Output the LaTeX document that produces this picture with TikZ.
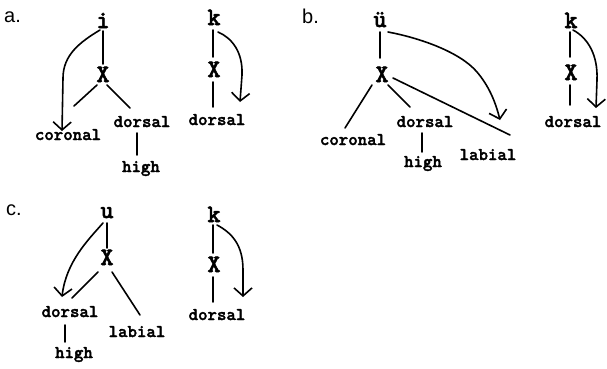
\documentclass[tikz,border=0pt]{standalone}
\usepackage{fontspec}
\newfontfamily\twfont{lmmonolt10-bold}[Extension=.otf, FakeBold=2]
\newfontfamily\tagfont{Liberation Sans}
\usetikzlibrary{arrows.meta}

\tikzset{
  seg/.style={line width=1.6pt, line cap=round, line join=round},
  arr/.style={seg, -{Straight Barb[length=8pt,width=18pt,line width=1.6pt]}},
  seg letter/.style={font=\fontsize{25}{25}\selectfont\twfont, inner sep=1pt, anchor=base},
  feat/.style={font=\fontsize{18}{18}\selectfont\twfont, inner sep=1pt, anchor=base},
  panel tag/.style={font=\fontsize{20}{20}\selectfont\tagfont, inner sep=0pt, anchor=base west},
}

\begin{document}
\begin{tikzpicture}[x=1pt, y=-1pt]
\useasboundingbox (0,0) rectangle (607,368);

% ---------------- a. ----------------
\node[panel tag] (tagA) at (4,22) {a.};
\node[seg letter] (ia)   at (103,28) {i};
\node[seg letter] (Xa)   at (103,82) {X};
\node[feat] (cora)  at (68,140)  {coronal};
\node[feat] (dora)  at (142,127) {dorsal};
\node[feat] (higa)  at (141,172) {high};
\coordinate (a1s) at (97,85);  \coordinate (a1e) at (74,106);
\coordinate (a2s) at (107,85); \coordinate (a2e) at (130,108);
\coordinate (aTip) at (62,131);
\draw[seg] (103,31) -- (103,64);
\draw[seg] (a1s) -- (a1e);
\draw[seg] (a2s) -- (a2e);
\draw[seg] (137,133) -- (137,155);
\draw[arr] (100,30) .. controls (80,42) and (63,55) .. (63,78) -- (aTip);

\node[seg letter] (ka)   at (214,25) {k};
\node[seg letter] (Xka)  at (214,77) {X};
\node[feat] (dorka) at (217,125) {dorsal};
\coordinate (kaTip) at (240,102);
\draw[seg] (213,30) -- (213,57);
\draw[seg] (213,82) -- (213,107);
\draw[arr] (218,32) .. controls (232,38) and (243,52) .. (242,75) -- (kaTip);

% ---------------- b. ----------------
\node[panel tag] (tagB) at (302,23) {b.};
\node[seg letter] (ub)   at (380,27) {ü};
\node[seg letter] (Xb)   at (382,82) {X};
\node[feat] (corb)  at (353,145) {coronal};
\node[feat] (dorb)  at (425,127) {dorsal};
\node[feat] (higb)  at (423,167) {high};
\node[feat] (labb)  at (488,160) {labial};
\coordinate (b1s) at (372,85);  \coordinate (b1e) at (345,128);
\coordinate (b2s) at (388,85);  \coordinate (b2e) at (410,107);
\coordinate (b3s) at (393,78);  \coordinate (b3e) at (510,135);
\coordinate (bTip) at (500,120);
\draw[seg] (380,32) -- (380,58);
\draw[seg] (b1s) -- (b1e);
\draw[seg] (b2s) -- (b2e);
\draw[seg] (b3s) -- (b3e);
\draw[seg] (422,133) -- (422,152);
\draw[arr] (388,32) .. controls (420,38) and (460,52) .. (477,72)
                    .. controls (488,85) and (495,100) .. (bTip);

\node[seg letter] (kb)   at (571,28) {k};
\node[seg letter] (Xkb)  at (571,80) {X};
\node[feat] (dorkb) at (573,127) {dorsal};
\coordinate (kbTip) at (596,108);
\draw[seg] (570,32) -- (570,57);
\draw[seg] (570,85) -- (570,105);
\draw[arr] (573,30) .. controls (588,38) and (598,55) .. (597,80) -- (kbTip);

% ---------------- c. ----------------
\node[panel tag] (tagC) at (6,215) {c.};
\node[seg letter] (uc)   at (107,218) {u};
\node[seg letter] (Xc)   at (107,265) {X};
\node[feat] (dorc)  at (70,317)  {dorsal};
\node[feat] (higc)  at (74,358)  {high};
\node[feat] (labc)  at (137,337) {labial};
\coordinate (c1s) at (98,272);  \coordinate (c1e) at (72,298);
\coordinate (c2s) at (112,272); \coordinate (c2e) at (140,315);
\coordinate (cTip) at (62,297);
\draw[seg] (107,223) -- (107,248);
\draw[seg] (c1s) -- (c1e);
\draw[seg] (c2s) -- (c2e);
\draw[seg] (65,325) -- (65,342);
\draw[arr] (103,223) .. controls (88,240) and (66,262) .. (cTip);

\node[seg letter] (kc)   at (214,222) {k};
\node[seg letter] (Xkc)  at (214,272) {X};
\node[feat] (dorkc) at (217,320) {dorsal};
\coordinate (kcTip) at (243,297);
\draw[seg] (213,225) -- (213,253);
\draw[seg] (213,277) -- (213,302);
\draw[arr] (217,225) .. controls (232,233) and (243,245) .. (243,270) -- (kcTip);
\end{tikzpicture}
\end{document}
